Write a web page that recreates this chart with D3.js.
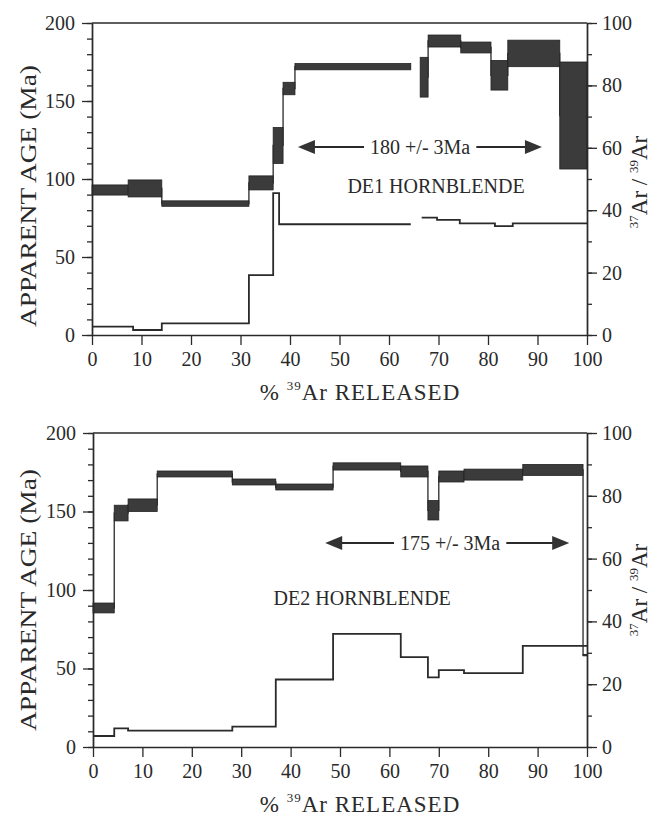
<!DOCTYPE html>
<html>
<head>
<meta charset="utf-8">
<script src="https://cdn.jsdelivr.net/npm/d3@7"></script>
<style>
body{margin:0;background:#fff}
text{font-family:"Liberation Serif","DejaVu Serif",serif;fill:#2a2a2a}
</style>
</head>
<body>
<div id="container"></div>
<script>
// age steps: [from %, to %, age low, age high]
var de1Age = [
    [0, 7.3, 89.7, 96.2],
    [7.3, 14.1, 88.5, 99.4],
    [14.1, 31.7, 82.5, 86],
    [31.7, 36.6, 93, 102],
    [36.6, 38.6, 110, 133],
    [38.6, 41, 154, 162],
    [41, 64.4, 170, 174],
    [66.3, 67.9, 152.5, 178],
    [67.9, 74.5, 184.6, 192.3],
    [74.5, 80.6, 180.8, 187.8],
    [80.6, 84, 157, 176],
    [84, 94.5, 172, 189],
    [94.5, 100, 106.4, 175]
]
// 37Ar/39Ar steps: [from %, to %, ratio]
var de1Ratio = [
    [0, 8.3, 2.7],
    [8.3, 14.1, 1.6],
    [14.1, 31.7, 3.7],
    [31.7, 36.6, 19.2],
    [36.6, 37.8, 45.5],
    [37.8, 64.4, 35.5],
    [66.6, 69.7, 37.6],
    [69.7, 74.3, 36.9],
    [74.3, 81.4, 35.8],
    [81.4, 85, 34.9],
    [85, 100, 35.8]
]
var de2Age = [
    [0, 4.3, 85.4, 91.7],
    [4.3, 7.1, 144, 154],
    [7.1, 13, 150, 158],
    [13, 28.2, 172, 175.8],
    [28.2, 37, 166.9, 170.7],
    [37, 48.6, 163.7, 167.5],
    [48.6, 62.3, 176.4, 181],
    [62.3, 67.8, 172, 179],
    [67.8, 70, 144.6, 157],
    [70, 75.1, 168.8, 175.8],
    [75.1, 87, 170, 177],
    [87, 99.2, 173, 180],
    [99.2, 100, 58.2, 59]
]
var de2Ratio = [
    [0, 4.3, 3.5],
    [4.3, 7.1, 5.9],
    [7.1, 28.2, 5.2],
    [28.2, 37, 6.5],
    [37, 48.6, 21.5],
    [48.6, 62.3, 36],
    [62.3, 67.8, 28.6],
    [67.8, 70, 22.2],
    [70, 75.1, 24.5],
    [75.1, 87, 23.5],
    [87, 99.2, 32.2],
    [99.2, 100, 32.2]
]

var xTicks = [0,10,20,30,40,50,60,70,80,90,100]
var ageTicks = [0,50,100,150,200]
var ratioTicks = [0,20,40,60,80,100]

var w = 658
var h = 818
var ink = "#2a2a2a"

var svg = d3.select("#container").append("svg").attr("width",w).attr("height",h)
svg.append("rect").attr("width",w).attr("height",h).attr("fill","#fff")

drawPanel({
    top:23, bottom:335, left:92, right:587,
    age:de1Age, ratio:de1Ratio,
    plateau:"180 +/- 3Ma", pY:120.5, pX0:41.6, pX1:90.9, pTxt:66.3,
    name:"DE1 HORNBLENDE", nX:69.5, nY:91,
    ageLabelY:196, ratioLabelY:182
})
drawPanel({
    top:433, bottom:747, left:93, right:587,
    age:de2Age, ratio:de2Ratio,
    plateau:"175 +/- 3Ma", pY:130, pX0:47, pX1:96.4, pTxt:72.3,
    name:"DE2 HORNBLENDE", nX:54.5, nY:90.4,
    ageLabelY:600, ratioLabelY:590
})

function drawPanel(o){
    var xScale = d3.scaleLinear().domain([0,100]).range([o.left,o.right])
    var yAge = d3.scaleLinear().domain([0,200]).range([o.bottom,o.top])
    var yRatio = d3.scaleLinear().domain([0,100]).range([o.bottom,o.top])
    var g = svg.append("g")

    // step connectors for the age spectrum
    var agePts = stepPoints(o.age.map(function(d){return [d[0],d[1],(d[2]+d[3])/2]}))
    g.append("path")
        .attr("d",d3.line().defined(function(d){return d!=null})
            .x(function(d){return xScale(d[0])}).y(function(d){return yAge(d[1])})(agePts))
        .attr("fill","none").attr("stroke",ink).attr("stroke-width",1.3)

    g.selectAll(".agebox").data(o.age).enter().append("rect")
        .attr("class","agebox")
        .attr("x",function(d){return xScale(d[0])})
        .attr("width",function(d){return xScale(d[1])-xScale(d[0])})
        .attr("y",function(d){return yAge(d[3])})
        .attr("height",function(d){return Math.max(1.5,yAge(d[2])-yAge(d[3]))})
        .attr("fill","#3b3b3b").attr("stroke","#222").attr("stroke-width",0.8)

    // ratio step line
    var ratioPts = stepPoints(o.ratio)
    g.append("path")
        .attr("d",d3.line().defined(function(d){return d!=null})
            .x(function(d){return xScale(d[0])}).y(function(d){return yRatio(d[1])})(ratioPts))
        .attr("fill","none").attr("stroke",ink).attr("stroke-width",1.8)

    // axes
    var leftAxis = d3.axisLeft(yAge).tickValues(ageTicks).tickSize(10).tickSizeOuter(0).tickPadding(7)
    var leftMinor = d3.axisLeft(yAge).tickValues(d3.range(0,201,10)).tickSize(5).tickSizeOuter(0).tickFormat("")
    var rightAxis = d3.axisRight(yRatio).tickValues(ratioTicks).tickSize(10).tickSizeOuter(0).tickPadding(5)
    var rightMinor = d3.axisRight(yRatio).tickValues(d3.range(0,101,10)).tickSize(5).tickSizeOuter(0).tickFormat("")
    var bottomAxis = d3.axisBottom(xScale).tickValues(xTicks).tickSize(10).tickSizeOuter(0).tickPadding(7)

    var axes = [
        [leftMinor,"translate("+o.left+",0)"],
        [leftAxis,"translate("+o.left+",0)"],
        [rightMinor,"translate("+o.right+",0)"],
        [rightAxis,"translate("+o.right+",0)"],
        [bottomAxis,"translate(0,"+o.bottom+")"]
    ]
    axes.forEach(function(a){
        var ag = g.append("g").attr("transform",a[1]).call(a[0])
        ag.selectAll("path").attr("stroke",ink).attr("stroke-width",1.4)
        ag.selectAll("line").attr("stroke",ink).attr("stroke-width",1.3)
        ag.selectAll("text").attr("font-size",20).attr("font-family","Liberation Serif").attr("fill","#2a2a2a")
    })
    // top frame
    g.append("line").attr("x1",xScale(0)).attr("x2",xScale(100))
        .attr("y1",yAge(200)).attr("y2",yAge(200)).attr("stroke",ink).attr("stroke-width",1.4)

    // plateau arrow
    var ay = yAge(o.pY)
    var tx = xScale(o.pTxt)
    var lbl = g.append("text").text(o.plateau).attr("x",tx).attr("y",ay+7)
        .attr("text-anchor","middle").attr("font-size",20)
    var bw = lbl.node().getBBox().width
    var l0 = xScale(o.pX0), l1 = xScale(o.pX1)
    g.append("line").attr("x1",l0+10).attr("x2",tx-bw/2-6).attr("y1",ay).attr("y2",ay)
        .attr("stroke",ink).attr("stroke-width",2)
    g.append("line").attr("x1",tx+bw/2+6).attr("x2",l1-10).attr("y1",ay).attr("y2",ay)
        .attr("stroke",ink).attr("stroke-width",2)
    g.append("path").attr("d","M"+l0+","+ay+"L"+(l0+17)+","+(ay-7)+"L"+(l0+17)+","+(ay+7)+"Z").attr("fill","#333")
    g.append("path").attr("d","M"+l1+","+ay+"L"+(l1-17)+","+(ay-7)+"L"+(l1-17)+","+(ay+7)+"Z").attr("fill","#333")

    g.append("text").text(o.name).attr("x",xScale(o.nX)).attr("y",yAge(o.nY))
        .attr("text-anchor","middle").attr("font-size",20)

    // axis titles
    g.append("text").text("APPARENT AGE (Ma)")
        .attr("transform","translate(36,"+o.ageLabelY+") rotate(-90)")
        .attr("text-anchor","middle").attr("font-size",23).attr("textLength",262).attr("lengthAdjust","spacingAndGlyphs")

    var rt = g.append("text").attr("transform","translate(647,"+o.ratioLabelY+") rotate(-90)")
        .attr("text-anchor","middle").attr("font-size",23)
    rt.append("tspan").text("37").attr("font-size",13).attr("dy",-9)
    rt.append("tspan").text("Ar / ").attr("dy",9)
    rt.append("tspan").text("39").attr("font-size",13).attr("dy",-9)
    rt.append("tspan").text("Ar").attr("dy",9)

    var xt = g.append("text").attr("x",360).attr("y",o.bottom+65)
        .attr("text-anchor","middle").attr("font-size",23).attr("letter-spacing",1)
    xt.append("tspan").text("% ")
    xt.append("tspan").text("39").attr("font-size",13).attr("dy",-10)
    xt.append("tspan").text("Ar RELEASED").attr("dy",10)
}

// turns [from,to,value] steps into a connected step path, breaking at gaps
function stepPoints(steps){
    var pts = []
    for(var i in steps){
        var s = steps[i]
        if(i>0 && steps[i-1][1]!=s[0]){
            pts.push(null)
        }
        pts.push([s[0],s[2]])
        pts.push([s[1],s[2]])
    }
    return pts
}
</script>
</body>
</html>
